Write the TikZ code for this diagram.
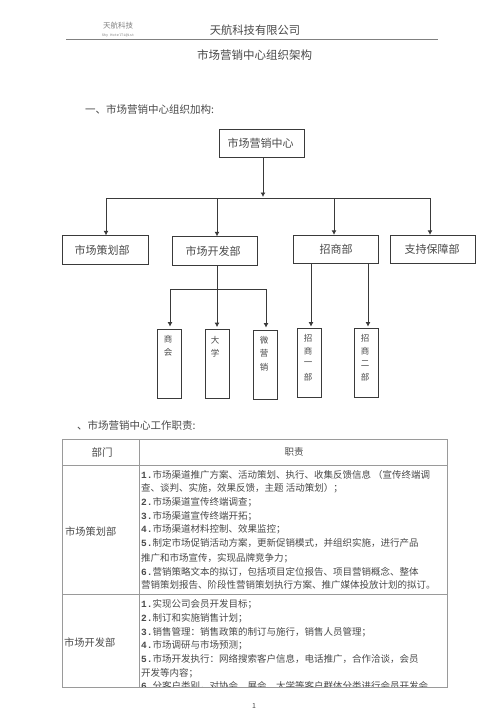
\documentclass[tikz,border=0pt]{standalone}
\usepackage{fontspec}
\usetikzlibrary{arrows.meta,calc}
\setmainfont{Noto Sans CJK SC}
\setmonofont{Liberation Mono}
\definecolor{inkc}{HTML}{3A3A3A}
\definecolor{txtc}{HTML}{4A4A4A}
\definecolor{rulec}{HTML}{9A9A9A}
\newcommand{\numr}[1]{{\ttfamily\bfseries #1}}
\tikzset{
  x=1pt,y=-1pt,
  txt/.style={inner sep=0pt,text=txtc,font=\fontsize{11.5}{12}\selectfont},
  body/.style={inner sep=0pt,anchor=west,text=txtc,font=\fontsize{9.5}{11}\selectfont},
  dept/.style={draw=inkc,line width=0.8pt,fill=white,minimum height=28.5pt,minimum width=85.5pt,inner sep=0pt,text=txtc,font=\fontsize{11}{12}\selectfont},
  sub/.style={draw=inkc,line width=0.8pt,fill=white,minimum height=69pt,minimum width=24pt,inner sep=0pt},
  vch/.style={inner sep=0pt,text=txtc,font=\fontsize{8.5}{9}\selectfont},
  conn/.style={draw=inkc,line width=1pt},
  arr/.style={conn,-{Latex[length=4.5pt,width=5pt]}},
  grid/.style={draw=rulec,line width=0.8pt}
}
\begin{document}
\begin{tikzpicture}
\useasboundingbox[fill=white] (0,0) rectangle (500,709);
% header
\node[txt,text=gray,font=\fontsize{7.5}{8}\selectfont] (hlogo) at (118,26) {天航科技};
\node[txt,text=gray,font=\ttfamily\fontsize{3.6}{4}\selectfont] (hsub) at (118,35.5) {Shy HotelTi@ist};
\node[txt,font=\fontsize{11.3}{12}\selectfont] (hname) at (255,30) {天航科技有限公司};
\coordinate (hl) at (66,39); \coordinate (hr) at (438,39);
\draw[draw=gray,line width=0.8pt] (hl) -- (hr);
\node[txt] (title) at (254.5,55) {市场营销中心组织架构};
\node[txt,anchor=west,font=\fontsize{10.5}{12}\selectfont] (sec1) at (85,109) {一、市场营销中心组织加构:};
% org chart
\node[dept] (c) at (262,143.5) {\kern-3pt 市场营销中心};
\node[dept] (a1) at (105.5,250) {\kern-7pt 市场策划部};
\node[dept] (a2) at (215,251) {\kern-4pt 市场开发部};
\node[dept] (a3) at (336,249.5) {招商部};
\node[dept] (a4) at (433,249.5) {\kern-2pt 支持保障部};
\node[sub] (s1) at (169,363.5) {};
\node[sub] (s2) at (217,364) {};
\node[sub] (s3) at (265,364.5) {};
\node[sub] (s4) at (309,362.5) {};
\node[sub] (s5) at (366,362.5) {};
\foreach \n/\x/\y/\t in {k1/168/339/商,k2/168/352/会,k3/215/340/大,k4/215/353/学,k5/264/340/微,k6/264/353/营,k7/264/367/销,
  k8/308/338/招,k9/308/351/商,k10/308/364/一,k11/308/377/部,k12/365/338/招,k13/365/351/商,k14/365/364/二,k15/365/377/部}
  \node[vch] (\n) at (\x,\y) {\t};
% connectors
\coordinate (busm) at (263,198);
\coordinate (busl) at (106,198);
\coordinate (busb) at (217,198);
\coordinate (busc) at (334,198);
\coordinate (busr) at (430,198);
\draw[conn] (busl) -- (busr);
\draw[arr] (c.south -| busm) -- ($(busm)+(0,-1)$);
\draw[arr] (busl) -- (a1.north -| busl);
\draw[arr] (busb) -- (a2.north -| busb);
\draw[arr] (busc) -- (a3.north -| busc);
\draw[arr] (busr) -- (a4.north -| busr);
\coordinate (lowl) at (170,289);
\coordinate (lowr) at (266,289);
\coordinate (lowm) at (217,289);
\draw[conn] (lowl) -- (lowr);
\draw[arr] (lowl) -- ($(s1.north -| lowl)+(0,-2)$);
\draw[arr] (a2.south -| lowm) -- ($(s2.north -| lowm)+(0,-2)$);
\draw[arr] (lowr) -- ($(s3.north -| lowr)+(0,-2)$);
\coordinate (cl) at (311,264); \coordinate (cr) at (368,264);
\draw[arr] (cl) -- ($(s4.north -| cl)+(0,-1)$);
\draw[arr] (cr) -- ($(s5.north -| cr)+(0,-1)$);
% section 2
\node[txt,anchor=west,font=\fontsize{10.5}{12}\selectfont] (sec2) at (77,425) {、市场营销中心工作职责:};
% table
\node[txt,font=\fontsize{10.5}{12}\selectfont] (h1) at (102,452) {部门};
\node[txt,font=\fontsize{9.5}{12}\selectfont] (h2) at (294,452) {职责};
\node[txt,anchor=west,font=\fontsize{10.2}{12}\selectfont] (d1) at (65,532) {市场策划部};
\node[txt,anchor=west,font=\fontsize{10.2}{12}\selectfont] (d2) at (64,643) {市场开发部};
\begin{scope}
\clip (139,467) rectangle (448,687.6);
\foreach \n/\y/\t in {
 l1/475/{\numr{1.}市场渠道推广方案、活动策划、执行、收集反馈信息\ （宣传终端调},
 l2/488/{查、谈判、实施，效果反馈，主题 活动策划）；},
 l3/502/{\numr{2.}市场渠道宣传终端调查；},
 l4/516/{\numr{3.}市场渠道宣传终端开拓；},
 l5/529/{\numr{4.}市场渠道材料控制、效果监控；},
 l6/543/{\numr{5.}制定市场促销活动方案，更新促销模式，并组织实施，进行产品},
 l7/558/{推广和市场宣传，实现品牌竞争力；},
 l8/572/{\numr{6.}营销策略文本的拟订，包括项目定位报告、项目营销概念、整体},
 l9/585/{营销策划报告、阶段性营销策划执行方案、推广媒体投放计划的拟订。},
 m1/604/{\numr{1.}实现公司会员开发目标；},
 m2/618/{\numr{2.}制订和实施销售计划；},
 m3/632/{\numr{3.}销售管理：销售政策的制订与施行，销售人员管理；},
 m4/645/{\numr{4.}市场调研与市场预测；},
 m5/659/{\numr{5.}市场开发执行：网络搜索客户信息，电话推广，合作洽谈，会员},
 m6/673/{开发等内容；},
 m7/686/{\numr{6.}分客户类别，对协会、展会、大学等客户群体分类进行会员开发会}}
  \node[body] (\n) at (141,\y) {\t};
\end{scope}
\coordinate (tl) at (62,439); \coordinate (tr) at (447,439);
\coordinate (bl) at (62,687); \coordinate (br) at (447,687);
\coordinate (col) at (139,439); \coordinate (colb) at (139,687);
\draw[grid] (tl) -- (tr) -- (br) -- (bl) -- cycle;
\draw[grid] (col) -- (colb);
\draw[grid] (62,465) -- (447,465);
\draw[grid] (62,594) -- (447,594);
\node[txt,font=\fontsize{7}{8}\selectfont] (pg) at (254,706) {1};
\end{tikzpicture}
\end{document}
